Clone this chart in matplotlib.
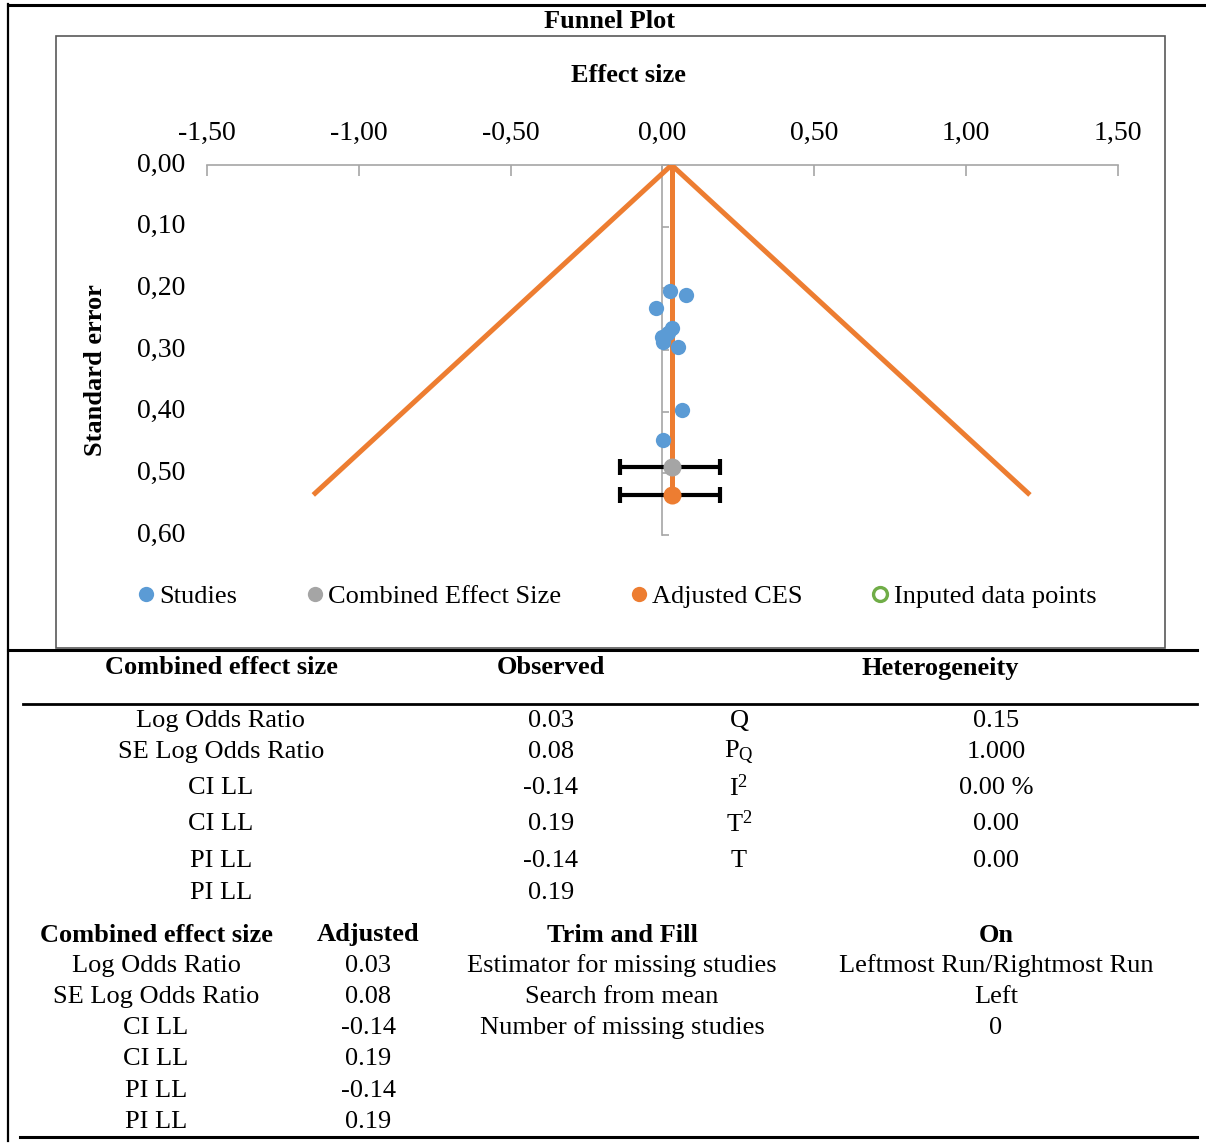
import matplotlib
matplotlib.use("Agg")
import matplotlib.pyplot as plt
from matplotlib.lines import Line2D
import numpy as np

plt.rcParams['font.family'] = ['Liberation Serif', 'DejaVu Serif']
plt.rcParams['mathtext.fontset'] = 'custom'
plt.rcParams['mathtext.rm'] = 'Liberation Serif'
plt.rcParams['mathtext.it'] = 'Liberation Serif:italic'

# ---------------- data ----------------
study_es = [0.026, 0.076, -0.021, 0.032, -0.003, 0.003, 0.018, 0.052, 0.064, 0.003]
study_se = [0.204, 0.210, 0.232, 0.264, 0.279, 0.287, 0.273, 0.295, 0.397, 0.446]
ces_es, ces_se, ces_ci = 0.03, 0.49, (-0.14, 0.19)
adj_es, adj_se, adj_ci = 0.03, 0.535, (-0.14, 0.19)
funnel_x = [-1.15, 0.03, 1.21]
funnel_y = [0.535, 0.0, 0.535]
x_ticks = [-1.5, -1.0, -0.5, 0.0, 0.5, 1.0, 1.5]
y_ticks = [0.0, 0.1, 0.2, 0.3, 0.4, 0.5, 0.6]
legend_labels = ["Studies", "Combined Effect Size", "Adjusted CES", "Inputed data points"]

obs_labels = ["Log Odds Ratio", "SE Log Odds Ratio", "CI LL", "CI LL", "PI LL", "PI LL"]
obs_values = ["0.03", "0.08", "-0.14", "0.19", "-0.14", "0.19"]
het_labels = [r"Q", r"$\mathrm{P_Q}$", r"$\mathrm{I^2}$", r"$\mathrm{T^2}$", r"T"]
het_values = ["0.15", "1.000", "0.00 %", "0.00", "0.00"]
adj_labels = ["Log Odds Ratio", "SE Log Odds Ratio", "CI LL", "CI LL", "PI LL", "PI LL"]
adj_values = ["0.03", "0.08", "-0.14", "0.19", "-0.14", "0.19"]
tf_labels = ["Estimator for missing studies", "Search from mean", "Number of missing studies"]
tf_values = ["Leftmost Run/Rightmost Run", "Left", "0"]

BLUE, GRAY, ORANGE, GREEN = "#5B9BD5", "#A5A5A5", "#ED7D31", "#70AD47"
AXGRAY = "#A6A6A6"

W, H = 1206, 1144
fig = plt.figure(figsize=(W / 100, H / 100), dpi=100)

def fx(x):
    return x / W

def fy(y):
    return 1 - y / H

def hline(y, x0, x1, lw=2.0, color="black"):
    fig.add_artist(Line2D([fx(x0), fx(x1)], [fy(y), fy(y)], color=color, lw=lw,
                          transform=fig.transFigure))

def vline(x, y0, y1, lw=2.0, color="black"):
    fig.add_artist(Line2D([fx(x), fx(x)], [fy(y0), fy(y1)], color=color, lw=lw,
                          transform=fig.transFigure))

# outer frame lines
hline(5, 8, 1206, lw=2.2)
vline(8, 4, 1141, lw=1.6)
# chart box
box = plt.Rectangle((fx(56), fy(648)), fx(1165) - fx(56), fy(36) - fy(648),
                    transform=fig.transFigure, fill=False, ec="#595959", lw=1.2)
fig.add_artist(box)
hline(650, 8, 1197, lw=2.2)
hline(704, 23, 1197, lw=2.0)
hline(1137, 20, 1197, lw=2.2)

# ---------------- chart ----------------
ax = fig.add_axes([fx(207), fy(535), fx(1118) - fx(207), fy(165) - fy(535)])
ax.set_xlim(-1.5, 1.5)
ax.set_ylim(0.6, 0.0)
ax.patch.set_alpha(0)

ax.plot(funnel_x, funnel_y, color=ORANGE, lw=3.6, solid_capstyle="butt", zorder=3)
ax.plot([adj_es, adj_es], [0, adj_se], color=ORANGE, lw=3.6, zorder=3)
ax.plot(study_es, study_se, "o", color=BLUE, ms=11, mec="none", zorder=5)
ax.errorbar([ces_es], [ces_se], xerr=[[ces_es - ces_ci[0]], [ces_ci[1] - ces_es]],
            fmt="none", ecolor="black", elinewidth=3, capsize=6, capthick=3, zorder=6)
ax.errorbar([adj_es], [adj_se], xerr=[[adj_es - adj_ci[0]], [adj_ci[1] - adj_es]],
            fmt="none", ecolor="black", elinewidth=3, capsize=6, capthick=3, zorder=6)
ax.plot([ces_es], [ces_se], "o", color=GRAY, ms=13, mec="none", zorder=7)
ax.plot([adj_es], [adj_se], "o", color=ORANGE, ms=13, mec="none", zorder=7)

for s in ["bottom", "right"]:
    ax.spines[s].set_visible(False)
ax.spines["top"].set_color(AXGRAY)
ax.spines["top"].set_linewidth(1.2)
ax.spines["left"].set_position(("data", 0))
ax.spines["left"].set_color(AXGRAY)
ax.spines["left"].set_linewidth(1.2)
ax.spines["left"].set_zorder(1)

ax.xaxis.tick_top()
ax.set_xticks(x_ticks)
ax.set_xticklabels([f"{v:.2f}".replace(".", ",") for v in x_ticks])
ax.tick_params(axis="x", direction="in", length=8, color=AXGRAY, width=1.2,
               labelsize=20, pad=14)
ax.set_yticks(y_ticks)
ax.set_yticklabels([])
ax.tick_params(axis="y", direction="in", length=5, color=AXGRAY, width=1.2)
for v in y_ticks:
    ax.text(-0.024, v, f"{v:.2f}".replace(".", ","), transform=ax.get_yaxis_transform(),
            ha="right", va="center", fontsize=20)

fig.text(fx(610), fy(21), "Funnel Plot", ha="center", va="center", fontsize=19, weight="bold")
fig.text(fx(628), fy(75), "Effect size", ha="center", va="center", fontsize=19, weight="bold")
fig.text(fx(96), fy(370), "Standard error", ha="center", va="center", fontsize=19,
         weight="bold", rotation=90)

handles = [
    Line2D([], [], ls="none", marker="o", color=BLUE, ms=11, mec="none"),
    Line2D([], [], ls="none", marker="o", color=GRAY, ms=11, mec="none"),
    Line2D([], [], ls="none", marker="o", color=ORANGE, ms=11, mec="none"),
    Line2D([], [], ls="none", marker="o", mfc="none", mec=GREEN, mew=2.4, ms=10),
]
fig.legend(handles, legend_labels, loc="center", bbox_to_anchor=(fx(617), fy(596)),
           ncol=4, frameon=False, fontsize=19, handlelength=0.6, handletextpad=0.2,
           columnspacing=2.65, borderpad=0)

# ---------------- table ----------------
FS = 19
def t(x, y, s, bold=False):
    fig.text(fx(x), fy(y), s, ha="center", va="center", fontsize=FS,
             weight="bold" if bold else "normal")

t(221, 668, "Combined effect size", True)
t(551, 668, "Observed", True)
t(940, 668, "Heterogeneity", True)
rows1 = [721, 752, 788, 824, 861, 893]
for i, y in enumerate(rows1):
    t(221, y, obs_labels[i])
    t(551, y, obs_values[i])
    if i < len(het_labels):
        t(739, y, het_labels[i])
        t(996, y, het_values[i])

t(156, 935, "Combined effect size", True)
t(368, 935, "Adjusted", True)
t(622, 935, "Trim and Fill", True)
t(996, 935, "On", True)
rows2 = [966, 997, 1028, 1059, 1091, 1122]
for i, y in enumerate(rows2):
    t(156, y, adj_labels[i])
    t(368, y, adj_values[i])
    if i < len(tf_labels):
        t(622, y, tf_labels[i])
        t(996, y, tf_values[i])

fig.savefig("out.png", dpi=100)
